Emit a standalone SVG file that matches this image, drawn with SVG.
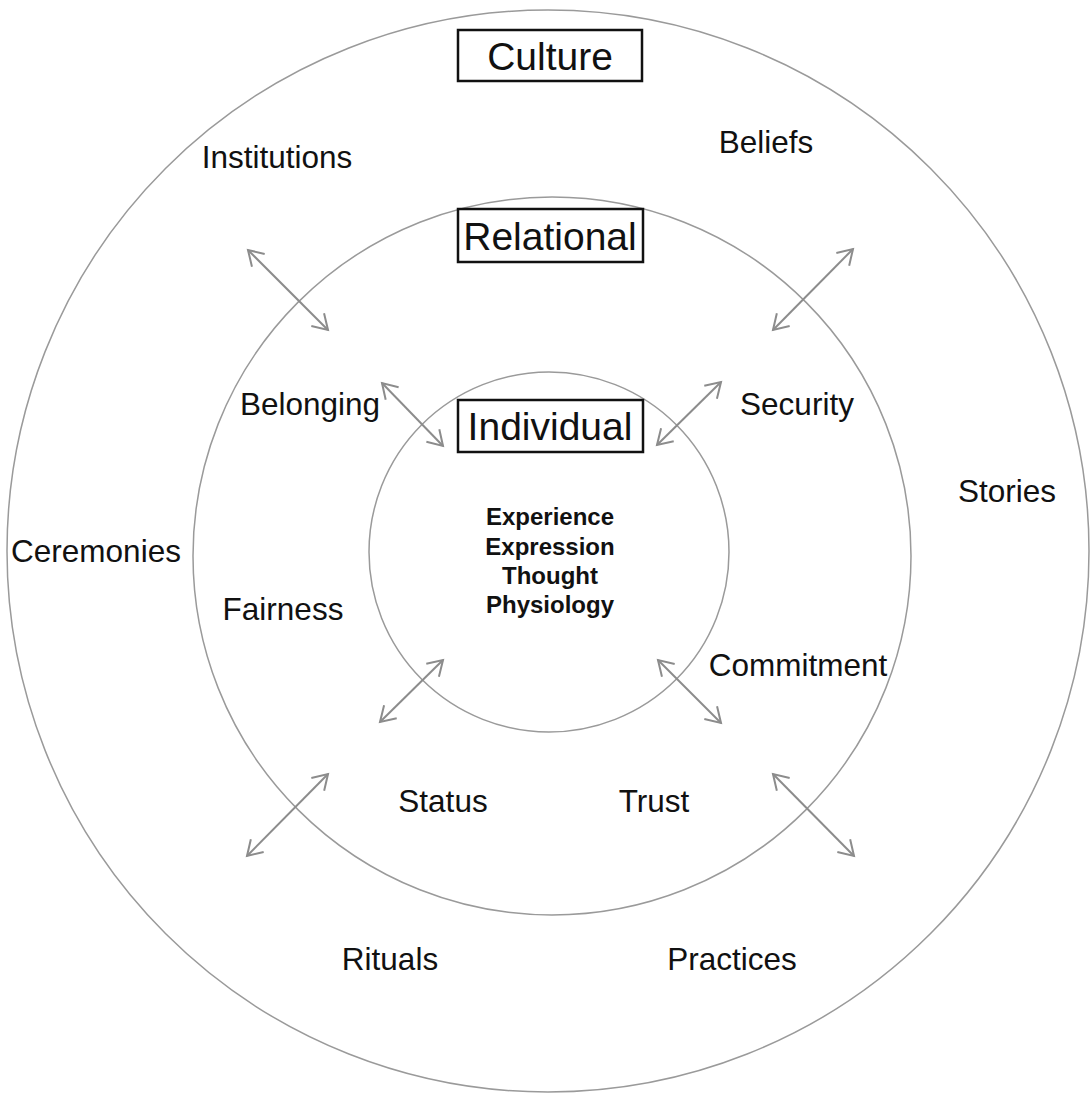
<svg xmlns="http://www.w3.org/2000/svg" width="1092" height="1093" viewBox="0 0 1092 1093">
<style>
.ring{fill:none;stroke:#9a9a9a;stroke-width:1.5}
.lbl{font-family:"Liberation Sans",Arial,sans-serif;font-size:31.5px;fill:#111;text-anchor:middle}
.ttl{font-family:"Liberation Sans",Arial,sans-serif;font-size:39px;fill:#111;text-anchor:middle}
.box{fill:#fff;stroke:#111;stroke-width:2.5}
.inner{font-family:"Liberation Sans",Arial,sans-serif;font-size:24px;font-weight:bold;fill:#111;text-anchor:middle}
.arr{stroke:#8c8c8c;stroke-width:2;fill:none;marker-start:url(#ah);marker-end:url(#ah)}
</style>
<defs>
<marker id="ah" markerUnits="userSpaceOnUse" markerWidth="40" markerHeight="40" viewBox="-20 -20 40 40" refX="0" refY="0" orient="auto-start-reverse" overflow="visible">
<path d="M-14.6,-9 L0,0 L-14.6,9" fill="none" stroke="#8c8c8c" stroke-width="2"/>
</marker>
</defs>
<rect width="1092" height="1093" fill="#fff"/>
<g id="culture">
<circle class="ring" cx="548" cy="551" r="541"/>
<rect class="box" x="458" y="30" width="184" height="51"/>
<text class="ttl" x="550" y="70">Culture</text>
<text class="lbl" x="277" y="168">Institutions</text>
<text class="lbl" x="766" y="153">Beliefs</text>
<text class="lbl" x="96" y="562">Ceremonies</text>
<text class="lbl" x="1007" y="502">Stories</text>
<text class="lbl" x="390" y="970">Rituals</text>
<text class="lbl" x="732" y="970">Practices</text>
</g>
<g id="relational">
<circle class="ring" cx="552" cy="556" r="359"/>
<rect class="box" x="458" y="209" width="185" height="53"/>
<text class="ttl" x="550" y="250">Relational</text>
<text class="lbl" x="310" y="415">Belonging</text>
<text class="lbl" x="797" y="415">Security</text>
<text class="lbl" x="283" y="620">Fairness</text>
<text class="lbl" x="798" y="676">Commitment</text>
<text class="lbl" x="443" y="812">Status</text>
<text class="lbl" x="654" y="812">Trust</text>
</g>
<g id="individual">
<circle class="ring" cx="549" cy="552" r="180"/>
<rect class="box" x="458" y="400" width="185" height="52"/>
<text class="ttl" x="550" y="440">Individual</text>
<text class="inner" x="550" y="525">Experience</text>
<text class="inner" x="550" y="555">Expression</text>
<text class="inner" x="550" y="584">Thought</text>
<text class="inner" x="550" y="613">Physiology</text>
</g>
<g id="connectors">
<line class="arr" x1="248" y1="250" x2="328" y2="330"/>
<line class="arr" x1="382" y1="383" x2="443" y2="446"/>
<line class="arr" x1="853" y1="249" x2="773" y2="330"/>
<line class="arr" x1="721" y1="382" x2="657" y2="445"/>
<line class="arr" x1="443" y1="660" x2="380" y2="722"/>
<line class="arr" x1="658" y1="660" x2="721" y2="723"/>
<line class="arr" x1="328" y1="774" x2="247" y2="856"/>
<line class="arr" x1="773" y1="774" x2="854" y2="856"/>
</g>
</svg>
